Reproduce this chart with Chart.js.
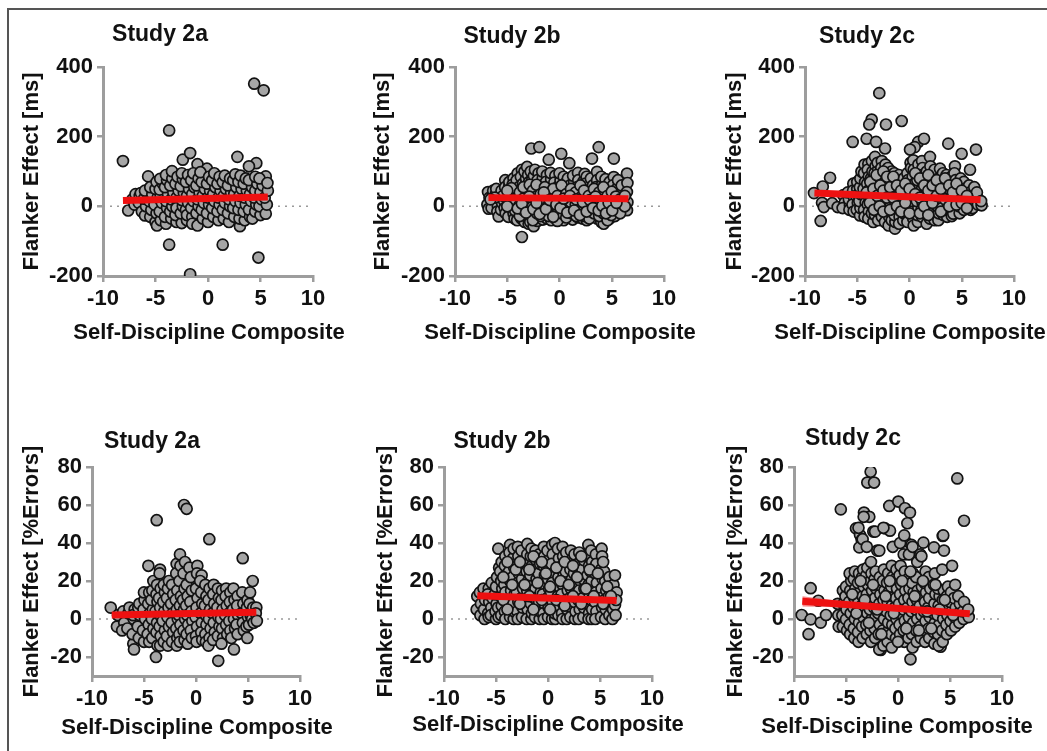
<!DOCTYPE html>
<html><head><meta charset="utf-8">
<script src="https://cdn.jsdelivr.net/npm/chart.js@4.4.0/dist/chart.umd.min.js"></script>
<style>
html,body{margin:0;padding:0;background:#fff;}
#wrap{position:relative;width:1047px;height:751px;overflow:hidden;background:#fff;}
#frame{position:absolute;left:7px;top:8px;width:1100px;height:800px;border-left:2px solid #555;border-top:2px solid #555;}
canvas{position:absolute;}
</style></head><body><div id="wrap"><div id="frame"></div>
<canvas id="c1"></canvas><canvas id="c2"></canvas><canvas id="c3"></canvas>
<canvas id="c4"></canvas><canvas id="c5"></canvas><canvas id="c6"></canvas>
</div>
<script>
// ---------- tick labels ----------
const xTicks = [-10, -5, 0, 5, 10];
const rtTicks = [-200, 0, 200, 400];
const errTicks = [-20, 0, 20, 40, 60, 80];
const panelTitles = ['Study 2a', 'Study 2b', 'Study 2c', 'Study 2a', 'Study 2b', 'Study 2c'];
const xAxisTitle = 'Self-Discipline Composite';
const rtAxisTitle = 'Flanker Effect [ms]';
const errAxisTitle = 'Flanker Effect [%Errors]';

// ---------- data: [self-discipline composite, flanker effect] ----------
const rt2a = [
[-8.1,130],[-7.6,-12],[-3.7,218],[-2.4,134],[-1.7,153],[-3.7,-110],[1.4,-110],[-1.7,-195],[4.4,352],[5.3,333],[4.8,-147],[2.8,142],[-5.7,86],[4.6,124],[3.9,115],[5.5,86],[-1.0,121],[-0.1,108],
[-7.2,20],[-6.9,35],[-7.0,5],
[-6.5,30],[-6.6,10],[-6.3,-15],[-6.4,38],
[-6.0,-26],[-5.9,0],[-6.1,22],[-5.8,38],[-6.0,45],
[-5.5,-30],[-5.4,-10],[-5.6,15],[-5.3,35],[-5.5,55],
[-5.0,-45],[-4.9,-20],[-5.1,5],[-4.8,25],[-5.0,50],[-4.9,70],[-4.86,-55],
[-4.5,-40],[-4.6,-15],[-4.4,10],[-4.5,30],[-4.6,48],[-4.3,65],[-4.55,79],
[-4.0,-50],[-4.1,-30],[-3.9,-5],[-4.0,15],[-3.8,35],[-4.1,55],[-3.9,75],[-4.0,90],
[-3.5,-35],[-3.6,-15],[-3.4,0],[-3.5,20],[-3.3,40],[-3.6,60],[-3.4,80],[-3.43,101],
[-3.0,-45],[-3.1,-25],[-2.9,5],[-3.0,25],[-2.8,45],[-3.1,65],[-2.9,85],[-3.0,-5],
[-2.5,-48],[-2.6,-20],[-2.4,0],[-2.5,18],[-2.3,38],[-2.6,58],[-2.4,78],[-2.5,95],
[-2.0,-40],[-2.1,-10],[-1.9,10],[-2.0,30],[-1.8,50],[-2.1,70],[-1.9,90],[-2.0,-25],
[-1.5,-30],[-1.6,-5],[-1.4,15],[-1.5,35],[-1.3,55],[-1.6,75],[-1.4,95],[-1.5,-50],
[-1.0,-55],[-1.1,-20],[-0.9,0],[-1.0,20],[-0.8,40],[-1.1,60],[-0.9,80],
[-0.5,-35],[-0.6,-10],[-0.4,10],[-0.5,30],[-0.3,50],[-0.6,70],[-0.72,98],
[0.0,-45],[-0.1,-20],[0.1,5],[0.0,25],[0.2,45],[-0.1,65],[0.1,85],
[0.5,-30],[0.4,-5],[0.6,15],[0.5,35],[0.7,55],[0.4,75],[0.6,95],
[1.0,-40],[0.9,-15],[1.1,5],[1.0,25],[1.2,45],[0.9,65],[1.1,85],
[1.5,-35],[1.4,-10],[1.6,10],[1.5,30],[1.7,50],[1.4,70],[1.6,88],
[2.0,-45],[1.9,-20],[2.1,0],[2.0,20],[2.2,40],[1.9,60],[2.1,80],
[2.5,-30],[2.4,-5],[2.6,15],[2.5,35],[2.7,55],[2.4,75],[2.6,92],
[3.04,-57],[3.0,-35],[2.9,-10],[3.1,10],[3.0,30],[3.2,50],[2.9,70],[3.1,88],
[3.5,-40],[3.4,-15],[3.6,5],[3.5,25],[3.7,45],[3.4,65],[3.6,80],
[4.0,-30],[3.9,-10],[4.1,15],[4.0,35],[4.2,55],[3.9,75],
[4.23,-35],[4.5,-15],[4.6,5],[4.4,25],[4.5,45],[4.7,65],[4.5,85],
[5.0,-25],[4.9,0],[5.1,20],[5.0,40],[5.2,60],[4.9,80],
[5.5,-21],[5.6,5],[5.4,25],[5.7,45],[5.66,67]
];

const rt2b = [
[-6.84,41],[-6.7,25],[-6.9,5],[-6.78,-7],
[-6.4,30],[-6.3,15],[-6.5,-5],[-6.35,45],
[-6.0,20],[-5.9,0],[-6.1,35],[-5.95,-15],[-6.05,50],
[-5.82,-29],[-5.6,-10],[-5.5,10],[-5.7,28],[-5.55,45],
[-5.19,75],[-5.2,55],[-5.1,35],[-5.3,15],[-5.25,-5],[-5.15,-20],
[-4.8,60],[-4.9,40],[-4.75,20],[-4.85,0],[-4.7,-15],[-4.9,-30],[-4.8,70],
[-4.4,80],[-4.5,62],[-4.3,45],[-4.45,28],[-4.35,10],[-4.5,-5],[-4.4,-20],[-4.3,-35],
[-4.0,95],[-4.1,75],[-3.9,55],[-4.05,38],[-3.95,20],[-4.1,5],[-3.9,-10],[-4.0,-25],[-4.05,-40],
[-3.6,105],[-3.7,85],[-3.5,65],[-3.65,48],[-3.55,30],[-3.7,12],[-3.5,-3],[-3.6,-18],[-3.65,-35],[-3.6,-88],
[-3.33,-45],[-3.3,-25],[-3.2,-8],[-3.35,8],[-3.25,25],[-3.4,42],[-3.3,60],[-3.2,80],[-3.35,100],
[-3.1,113],[-3.0,90],[-2.9,70],[-3.05,52],[-2.95,35],[-3.1,18],[-2.9,2],[-3.0,-15],[-3.05,-32],[-2.95,-50],
[-2.7,166],[-2.75,100],[-2.6,78],[-2.7,58],[-2.8,40],[-2.65,22],[-2.75,5],[-2.6,-12],[-2.7,-28],[-2.8,-45],
[-2.47,-57],[-2.4,-35],[-2.3,-18],[-2.45,0],[-2.35,15],[-2.5,32],[-2.4,50],[-2.3,68],[-2.45,88],[-2.35,105],
[-1.93,170],[-2.0,95],[-2.1,75],[-1.9,55],[-2.05,38],[-1.95,20],[-2.1,3],[-1.9,-14],[-2.0,-30],[-2.1,-42],
[-1.6,-38],[-1.7,-22],[-1.5,-6],[-1.65,10],[-1.55,27],[-1.7,45],[-1.5,63],[-1.6,82],[-1.65,100],
[-1.03,134],[-1.2,90],[-1.3,70],[-1.1,50],[-1.25,32],[-1.15,15],[-1.3,0],[-1.1,-18],[-1.2,-35],
[-0.8,-40],[-0.9,-25],[-0.7,-8],[-0.85,8],[-0.75,25],[-0.9,42],[-0.7,60],[-0.8,78],[-0.85,96],
[-0.4,88],[-0.5,68],[-0.3,50],[-0.45,32],[-0.35,15],[-0.5,-2],[-0.3,-20],[-0.4,-35],
[0.0,-30],[-0.1,-12],[0.1,5],[-0.05,22],[0.05,40],[-0.1,58],[0.1,75],[0.0,95],[0.17,151],
[0.4,85],[0.5,65],[0.3,45],[0.45,28],[0.35,10],[0.5,-8],[0.3,-25],[0.4,-40],
[0.94,124],[0.8,80],[1.0,60],[0.85,40],[0.95,22],[0.8,5],[1.0,-12],[0.9,-28],
[1.26,-38],[1.3,-20],[1.4,-3],[1.25,15],[1.35,32],[1.2,50],[1.4,70],[1.3,88],
[1.77,96],[1.8,75],[1.7,55],[1.85,38],[1.75,20],[1.9,3],[1.7,-15],[1.8,-32],
[2.2,-35],[2.1,-18],[2.3,0],[2.15,18],[2.25,35],[2.1,52],[2.3,72],[2.41,93],
[2.6,85],[2.5,65],[2.7,45],[2.55,28],[2.65,10],[2.5,-8],[2.7,-25],[2.6,-40],
[3.11,137],[3.0,80],[3.2,60],[3.05,40],[3.15,22],[3.0,5],[3.2,-12],[3.1,-30],
[3.75,170],[3.59,99],[3.6,75],[3.5,55],[3.65,35],[3.55,18],[3.7,0],[3.5,-18],[3.6,-35],
[4.0,-45],[3.9,-25],[4.1,-8],[3.95,10],[4.05,28],[3.9,45],[4.1,65],[4.0,85],
[4.23,-50],[4.4,-30],[4.3,-12],[4.45,5],[4.35,22],[4.5,40],[4.3,58],[4.4,78],
[4.8,70],[4.9,50],[4.7,32],[4.85,15],[4.75,-2],[4.9,-20],[4.8,-35],
[5.2,137],[5.19,84],[5.1,60],[5.3,40],[5.15,22],[5.25,5],[5.1,-12],[5.3,-28],
[5.6,55],[5.7,35],[5.5,18],[5.65,0],[5.55,-15],[5.6,75],
[6.0,45],[6.1,25],[5.9,8],[6.05,-10],[5.95,60],
[6.46,94],[6.5,67],[6.45,41],[6.5,12],[6.46,-11],
[-4.6,52],[-4.2,18],[-4.25,-12],[-3.8,40],[-3.85,2],[-3.8,-28],[-3.45,22],[-3.4,-12],[-3.45,55],[-2.85,62],[-2.85,12],[-2.9,-22],
[-2.55,45],[-2.6,-2],[-2.55,-40],[-2.2,28],[-2.15,-20],[-2.2,62],[-1.8,35],[-1.85,0],[-1.8,-28],[-1.4,55],[-1.4,20],[-1.45,-12],
[-1.0,38],[-1.0,5],[-1.05,-28],[-0.6,50],[-0.6,15],[-0.65,-18],[-0.2,30],[-0.25,-2],[-0.2,-42],[0.2,60],[0.25,15],[0.2,-20],
[0.65,35],[0.7,0],[0.65,-32],[1.1,50],[1.1,12],[1.15,-20],[1.55,40],[1.55,5],[1.6,-28],[2.0,60],[2.0,25],[1.95,-10],
[2.35,45],[2.4,8],[2.4,-28],[2.8,30],[2.85,-2],[2.85,-35],[3.3,50],[3.35,12],[3.3,-20],[3.8,40],[3.8,5],[3.8,-28],
[4.2,55],[4.15,18],[4.2,-20],[4.6,30],[4.6,-5],[4.6,-40],[5.0,42],[5.0,8],[4.95,-25],[5.4,28],[5.35,-5],[5.8,20],
[5.8,-20],[6.25,30],[6.25,0],[-5.4,30],[-5.0,0],[-5.0,45],[-6.2,25],[-6.6,20],
[-4.0,-6],[-3.6,8],[-3.2,-18],[-2.9,28],[-2.5,-8],[-2.2,10],[-1.9,-22],[-1.5,40],[-1.3,-8],[-0.95,18],[-0.6,-30],[-0.3,5],
[0.1,-5],[0.4,22],[0.75,-18],[1.0,30],[1.4,-12],[1.6,20],[1.95,-25],[2.25,12],[2.6,-15],[2.9,18],[3.2,-5],[3.45,28],
[3.75,-12],[4.1,2],[4.45,-20],[4.7,10],[5.05,-12],[5.45,10]
];

const rt2c = [
[-2.89,325],[-3.62,249],[-3.85,235],[-2.25,235],[-0.75,245],[-5.44,185],[-4.1,194],[-3.2,185],[0.84,185],[1.39,194],[0.5,170],[0.05,163],[3.71,180],[4.99,151],[6.36,163],
[-9.14,38],[-8.3,57],[-7.6,82],[-8.37,10],[-8.2,-2],[-8.5,-42],[-7.4,9],[-6.87,-2],
[-6.33,32],[-6.2,10],[-6.4,-5],
[-5.7,3],[-5.8,20],[-5.9,40],[-5.75,-10],
[-5.38,65],[-5.4,45],[-5.3,25],[-5.45,5],[-5.35,-15],
[-5.0,50],[-5.1,30],[-4.95,10],[-5.05,-10],[-5.0,70],
[-4.74,-26],[-4.7,-5],[-4.8,15],[-4.65,35],[-4.75,55],[-4.7,80],[-4.6,100],
[-4.3,120],[-4.35,95],[-4.25,70],[-4.4,50],[-4.3,30],[-4.2,10],[-4.35,-10],[-4.3,-30],
[-3.94,122],[-4.0,105],[-3.9,85],[-4.05,65],[-3.95,45],[-3.85,25],[-4.0,5],[-3.9,-15],[-3.95,-35],
[-3.46,-45],[-3.6,-20],[-3.55,0],[-3.65,20],[-3.5,40],[-3.6,60],[-3.7,80],[-3.55,100],[-3.6,130],
[-3.3,142],[-3.25,115],[-3.35,95],[-3.2,75],[-3.3,55],[-3.4,35],[-3.25,15],[-3.35,-5],[-3.3,-25],
[-3.0,-40],[-2.95,-15],[-3.05,5],[-2.9,25],[-3.0,45],[-3.1,65],[-2.95,85],[-3.0,105],[-3.05,125],
[-2.65,130],[-2.7,110],[-2.6,90],[-2.75,70],[-2.65,50],[-2.55,30],[-2.7,10],[-2.6,-10],[-2.65,-30],
[-2.34,166],[-2.3,120],[-2.4,100],[-2.25,80],[-2.35,60],[-2.45,40],[-2.3,20],[-2.4,0],[-2.3,-20],[-2.35,-45],
[-2.0,-55],[-1.95,-30],[-2.05,-10],[-1.9,10],[-2.0,30],[-2.1,50],[-1.95,70],[-2.0,90],[-2.05,110],
[-1.7,100],[-1.65,80],[-1.75,60],[-1.6,40],[-1.7,20],[-1.8,0],[-1.65,-20],[-1.7,-40],
[-1.39,-64],[-1.35,-45],[-1.45,-25],[-1.3,-5],[-1.4,15],[-1.5,35],[-1.35,55],[-1.4,75],[-1.45,95],
[-1.0,90],[-0.95,70],[-1.05,50],[-0.9,30],[-1.0,10],[-1.1,-10],[-0.95,-30],[-1.0,-50],
[-0.6,-40],[-0.55,-20],[-0.65,0],[-0.5,20],[-0.6,40],[-0.7,60],[-0.55,80],
[-0.2,95],[-0.15,75],[-0.25,55],[-0.1,35],[-0.2,15],[-0.3,-5],[-0.15,-25],[-0.2,-45],
[0.1,125],[0.15,110],
[0.36,132],[0.4,105],[0.3,85],[0.45,65],[0.35,45],[0.25,25],[0.4,5],[0.3,-15],[0.35,-35],[0.4,-55],
[0.8,-45],[0.75,-25],[0.85,-5],[0.7,15],[0.8,35],[0.9,55],[0.75,75],[0.8,95],[0.85,120],
[1.2,130],[1.25,110],[1.15,90],[1.3,70],[1.2,50],[1.1,30],[1.25,10],[1.15,-10],[1.2,-30],
[1.64,-50],[1.6,-20],[1.7,0],[1.55,20],[1.65,40],[1.75,60],[1.6,80],[1.65,100],
[1.96,142],[2.0,115],[1.9,90],[2.05,70],[1.95,50],[1.85,30],[2.0,10],[1.9,-10],[1.95,-35],
[2.4,-40],[2.35,-15],[2.45,5],[2.3,25],[2.4,45],[2.5,65],[2.35,85],[2.4,105],
[2.76,-40],[2.8,-20],[2.7,0],[2.85,20],[2.75,40],[2.65,60],[2.8,80],[2.92,108],
[3.2,95],[3.25,75],[3.15,55],[3.3,35],[3.2,15],[3.1,-5],[3.25,-25],
[3.6,-30],[3.55,-10],[3.65,10],[3.5,30],[3.6,50],[3.7,70],[3.55,90],
[4.0,85],[4.05,65],[3.95,45],[4.1,25],[4.0,5],[3.9,-15],[4.05,-28],
[4.35,115],[4.3,95],[4.4,75],[4.25,55],[4.35,35],[4.45,15],[4.3,-5],[4.19,-21],
[4.8,-20],[4.75,0],[4.85,20],[4.7,40],[4.8,60],[4.9,80],
[5.2,70],[5.25,50],[5.15,30],[5.3,10],[5.2,-10],
[5.79,105],[5.7,60],[5.8,40],[5.65,20],[5.75,0],[5.85,-10],
[6.1,36],[6.15,15],[6.05,-5],[6.2,55],
[6.5,25],[6.55,5],[6.45,40],
[6.9,3],[6.85,15],
[-4.1,40],[-3.75,70],[-3.8,10],[-3.45,50],[-3.4,-10],[-3.15,90],[-3.1,30],[-2.8,60],[-2.85,0],[-2.5,100],[-2.5,45],[-2.5,-15],
[-2.15,85],[-2.15,25],[-1.85,55],[-1.85,-10],[-1.55,85],[-1.55,25],[-1.2,60],[-1.2,0],[-0.8,45],[-0.8,-15],[-0.4,65],[-0.4,10],
[0.0,50],[0.0,-20],[0.55,95],[0.55,35],[1.0,80],[1.0,25],[1.0,-20],[1.4,60],[1.4,0],[1.8,90],[1.8,45],[1.8,-25],
[2.2,60],[2.2,10],[2.6,75],[2.6,30],[3.0,50],[3.0,-15],[3.4,80],[3.4,20],[3.8,60],[3.8,0],[4.15,40],[4.5,65],
[4.5,5],[5.0,45],[5.0,10],[5.5,30],[5.5,-5]
];

const err2a = [
[-8.2,6],[-3.78,52],[-1.15,60],[-0.9,58],[1.28,42],[4.49,32],[5.45,20],
[-7.5,2],[-7.6,-4],
[-7.0,4],[-6.9,-2],[-7.1,-6],
[-6.5,3],[-6.6,-5],[-6.4,6],
[-6.03,-13],[-5.96,-16],[-6.1,-8],[-6.0,0],[-5.9,5],[-6.05,2],
[-5.5,-10],[-5.6,-4],[-5.4,2],[-5.55,6],[-5.45,8],
[-5.0,-12],[-5.1,-6],[-4.9,0],[-5.05,5],[-4.95,10],[-5.0,14],
[-4.58,28],[-4.5,14],[-4.6,8],[-4.45,3],[-4.55,-3],[-4.65,-8],[-4.5,-12],
[-4.2,-10],[-4.1,-5],[-4.25,0],[-4.15,5],[-4.3,10],[-4.2,15],[-4.1,20],
[-3.85,-20],[-3.7,-14],[-3.8,-7],[-3.75,-2],[-3.9,4],[-3.7,9],[-3.8,13],[-3.75,18],
[-3.46,26],[-3.5,24],[-3.4,16],[-3.55,11],[-3.45,6],[-3.35,1],[-3.5,-4],[-3.4,-9],[-3.45,-14],
[-3.1,-12],[-3.0,-6],[-3.2,-1],[-3.05,4],[-3.15,9],[-3.0,14],[-3.1,18],
[-2.7,-14],[-2.8,-9],[-2.6,-4],[-2.75,1],[-2.65,6],[-2.8,11],[-2.7,16],[-2.6,20],
[-2.3,18],[-2.2,13],[-2.4,8],[-2.25,3],[-2.35,-2],[-2.2,-7],[-2.3,-12],
[-1.86,29],[-1.9,24],[-1.8,15],[-1.95,10],[-1.85,5],[-1.75,0],[-1.9,-5],[-1.8,-10],[-1.85,-14],
[-1.54,34],[-1.5,28],[-1.6,20],[-1.45,12],[-1.55,7],[-1.65,2],[-1.5,-3],[-1.6,-8],[-1.55,-12],
[-1.06,30],[-1.2,24],[-1.1,16],[-1.25,10],[-1.15,5],[-1.05,0],[-1.2,-6],[-1.1,-11],
[-0.64,27],[-0.9,18],[-0.8,12],[-0.95,7],[-0.85,2],[-0.75,-3],[-0.9,-8],[-0.8,-13],
[-0.5,22],[-0.4,15],[-0.55,9],[-0.45,4],[-0.35,-1],[-0.5,-6],[-0.4,-10],
[0.13,28],[0.1,24],[0.0,16],[0.15,11],[0.05,6],[-0.05,1],[0.1,-4],[0.0,-9],[0.05,-12],
[0.54,23],[0.4,20],[0.5,14],[0.6,8],[0.45,3],[0.55,-2],[0.5,-7],[0.6,-11],
[0.9,18],[1.0,12],[0.85,7],[0.95,2],[1.0,-3],[0.9,-8],[0.95,-12],
[1.3,16],[1.2,10],[1.35,5],[1.25,0],[1.4,-5],[1.3,-10],[1.2,-14],
[1.7,18],[1.65,13],[1.75,8],[1.6,3],[1.7,-2],[1.8,-7],[1.65,-11],
[2.14,-22],[2.1,16],[2.2,11],[2.05,6],[2.15,1],[2.25,-4],[2.1,-9],
[2.5,15],[2.45,10],[2.55,5],[2.4,0],[2.5,-5],[2.6,-10],[2.45,-13],
[2.9,16],[2.85,12],[2.95,7],[2.8,2],[2.9,-3],[3.0,-8],
[3.3,14],[3.25,9],[3.35,4],[3.2,-1],[3.3,-6],[3.4,-10],
[3.65,-16],[3.6,16],[3.7,10],[3.55,5],[3.65,0],[3.75,-5],
[4.0,12],[3.95,7],[4.05,2],[3.9,-3],[4.0,-8],
[4.45,14],[4.55,8],[4.4,3],[4.5,-2],[4.6,-6],
[4.93,-10],[4.9,6],[5.0,1],[4.85,-4],[4.95,10],
[5.2,14],[5.15,8],[5.25,2],[5.1,-3],
[5.5,6],[5.4,0],[5.55,-2],
[5.8,6],[5.75,3],[5.85,-1]
];

const err2b = [
[-6.86,5],[-6.8,12],
[-6.5,2],[-6.45,8],[-6.55,14],
[-6.1,0],[-6.15,5],[-6.05,10],[-6.2,16],
[-5.7,16],[-5.75,3],[-5.65,9],[-5.8,13],[-5.7,1],
[-5.41,19],[-5.45,6],[-5.35,11],[-5.5,2],
[-5.0,0],[-5.05,4],[-4.95,8],[-5.1,13],[-5.0,17],[-4.9,22],
[-4.78,37],[-4.7,27],[-4.8,6],[-4.75,1],
[-4.5,2],[-4.45,7],[-4.55,12],[-4.4,16],[-4.5,20],[-4.6,25],[-4.45,30],
[-4.1,33],[-4.15,28],[-4.05,23],[-4.2,18],[-4.1,14],[-4.0,9],[-4.15,4],[-4.1,0],
[-3.65,39],[-3.7,35],[-3.6,30],[-3.75,25],[-3.65,20],[-3.55,15],[-3.7,10],[-3.6,5],[-3.65,1],
[-3.3,0],[-3.25,4],[-3.35,8],[-3.2,13],[-3.3,18],[-3.4,22],[-3.25,27],[-3.35,32],[-3.3,37],
[-2.9,38],[-2.85,33],[-2.95,28],[-2.8,24],[-2.9,19],[-3.0,14],[-2.85,9],[-2.95,4],[-2.9,0],
[-2.5,1],[-2.45,6],[-2.55,11],[-2.4,16],[-2.5,21],[-2.6,26],[-2.45,31],[-2.55,36],
[-1.99,39.5],[-2.0,34],[-1.95,29],[-2.05,25],[-1.9,20],[-2.0,15],[-2.1,10],[-1.95,5],[-2.05,0],
[-1.6,0],[-1.55,3],[-1.65,8],[-1.5,13],[-1.6,18],[-1.7,23],[-1.55,28],[-1.65,33],[-1.6,37],
[-1.2,36],[-1.15,31],[-1.25,26],[-1.1,21],[-1.2,16],[-1.3,11],[-1.15,6],[-1.25,1],
[-0.8,0],[-0.75,4],[-0.85,9],[-0.7,14],[-0.8,19],[-0.9,24],[-0.75,29],[-0.85,34],
[-0.4,38],[-0.35,33],[-0.45,28],[-0.3,23],[-0.4,18],[-0.5,13],[-0.35,8],[-0.45,3],[-0.4,0],
[0.0,1],[0.05,6],[-0.05,11],[0.1,16],[0.0,21],[-0.1,26],[0.05,31],[-0.05,36],
[0.4,39],[0.45,34],[0.35,29],[0.5,24],[0.4,19],[0.3,14],[0.45,9],[0.35,4],[0.4,0],
[0.67,40],[0.7,0],[0.65,3],
[1.0,2],[1.05,7],[0.95,12],[1.1,17],[1.0,22],[0.9,27],[1.05,32],[0.95,37],
[1.4,38],[1.45,33],[1.35,28],[1.5,23],[1.4,18],[1.3,13],[1.45,8],[1.35,3],[1.4,0],
[1.8,0],[1.85,5],[1.75,10],[1.9,15],[1.8,20],[1.7,25],[1.85,30],[1.75,35],
[2.2,36],[2.25,31],[2.15,26],[2.3,21],[2.2,16],[2.1,11],[2.25,6],[2.15,1],
[2.6,0],[2.65,4],[2.55,9],[2.7,14],[2.6,19],[2.5,24],[2.65,29],[2.55,34],
[3.0,35],[3.05,30],[2.95,25],[3.1,20],[3.0,15],[2.9,10],[3.05,5],[2.95,0],
[3.4,1],[3.45,6],[3.35,11],[3.5,16],[3.4,21],[3.3,26],[3.45,31],
[3.88,39],[3.85,33],[3.95,28],[3.8,23],[3.9,18],[4.0,13],[3.85,8],[3.95,3],[3.9,0],
[4.2,0],[4.25,5],[4.15,10],[4.3,15],[4.2,20],[4.1,25],[4.25,30],[4.15,36],
[4.6,34],[4.65,29],[4.55,24],[4.7,19],[4.6,14],[4.5,9],[4.65,4],[4.55,0],
[5.16,37],[5.2,33],[5.1,26],[5.25,21],[5.15,16],[5.05,11],[5.2,6],[5.1,1],
[5.5,0],[5.55,5],[5.45,10],[5.6,15],[5.5,20],[5.4,25],
[5.9,22],[5.95,17],[5.85,12],[6.0,7],[5.9,2],
[6.2,0],[6.25,5],[6.15,10],[6.3,18],
[6.44,23],[6.44,7.4],[6.5,2],
[6.6,14],[6.55,10],
[-4.3,10],[-4.3,22],[-3.9,5],[-3.9,30],[-3.45,18],[-3.1,26],[-2.7,8],[-2.7,30],[-2.25,18],[-1.8,12],[-1.8,26],[-1.4,5],
[-1.4,33],[-1.0,19],[-0.6,10],[-0.6,30],[-0.2,24],[0.2,5],[0.2,17],[0.8,27],[0.8,10],[1.2,20],[1.6,30],[1.6,7],
[2.0,18],[2.4,28],[2.4,12],[2.8,22],[3.2,8],[3.2,33],[3.65,16],[4.0,26],[4.4,12],[4.8,24],[5.3,8],[5.3,30],
[5.7,17],[6.05,12]
];

const err2c = [
[-2.63,77.5],[-2.95,71.8],[-2.3,71.8],[5.7,74],[6.35,51.7],[-5.5,57.7],[-0.84,59.5],[0.03,61.8],[0.67,58.3],[1.15,56],[-3.27,56],[-2.76,53.8],[-3.3,53.8],[-4.04,47.7],[-3.65,44.2],[-3.49,41.6],[-3.72,37.7],[-2.37,46],[-1.25,47.7],[-0.77,46.5],[0.9,50.4],[-1.99,36],[4.3,43.7],[3.46,37.7],[4.42,36],[2.44,40.2],[0.67,41],[1.3,39],
[-8.4,16.2],[-7.66,9.6],[-9.26,2.1],[-8.4,-0.2],[-7.43,-1.9],[-6.92,2.1],[-8.6,-8],[1.2,-21.2],[-1.66,-16.3],[4.1,-14.6],
[-5.74,2],[-5.7,-4],[-5.8,8],
[-5.3,-4],[-5.35,2],[-5.25,8],[-5.3,15],
[-5.0,-0.2],[-4.95,5],[-5.05,12],[-5.0,17],[-4.9,-6],
[-4.6,-8],[-4.65,-3],[-4.55,3],[-4.7,9],[-4.6,15],[-4.5,20],[-4.65,24],
[-4.2,-10],[-4.25,-5],[-4.15,0],[-4.3,6],[-4.2,11],[-4.1,16],[-4.25,21],[-4.15,25],
[-3.8,-12],[-3.85,-7],[-3.75,-2],[-3.9,4],[-3.8,9],[-3.7,14],[-3.85,19],[-3.75,24],[-3.8,48],
[-3.4,-10],[-3.45,-4],[-3.35,1],[-3.5,7],[-3.4,12],[-3.3,17],[-3.45,22],[-3.35,26],[-3.4,42],
[-3.0,-8],[-3.05,-3],[-2.95,3],[-3.1,8],[-3.0,13],[-2.9,18],[-3.05,23],[-2.95,27],[-3.0,38],
[-2.6,-12],[-2.65,-6],[-2.55,0],[-2.7,5],[-2.6,10],[-2.5,15],[-2.65,20],[-2.55,24],[-2.6,30],
[-2.2,-10],[-2.25,-5],[-2.15,1],[-2.3,6],[-2.2,11],[-2.1,16],[-2.25,21],[-2.15,25],[-2.2,46],
[-1.8,-16],[-1.85,-8],[-1.75,-3],[-1.9,3],[-1.8,8],[-1.7,13],[-1.85,18],[-1.75,22],[-1.8,36],
[-1.4,-14],[-1.45,-6],[-1.35,0],[-1.5,5],[-1.4,10],[-1.3,15],[-1.45,20],[-1.35,26],[-1.4,48],
[-1.0,-12],[-1.05,-7],[-0.95,-2],[-1.1,4],[-1.0,9],[-0.9,14],[-1.05,19],[-0.95,24],
[-0.6,-15],[-0.65,-8],[-0.55,-3],[-0.7,2],[-0.6,7],[-0.5,12],[-0.65,17],[-0.55,22],[-0.6,28],[-0.5,38],
[-0.2,-10],[-0.25,-5],[-0.15,0],[-0.3,6],[-0.2,11],[-0.1,16],[-0.25,21],[-0.15,26],
[0.2,-8],[0.15,-3],[0.25,3],[0.1,8],[0.2,13],[0.3,18],[0.15,23],[0.25,28],[0.2,40],
[0.6,-12],[0.55,-6],[0.65,-1],[0.5,5],[0.6,10],[0.7,15],[0.55,20],[0.65,25],[0.6,44],[0.55,34],
[1.0,-10],[0.95,-4],[1.05,1],[0.9,6],[1.0,11],[1.1,16],[0.95,21],[1.05,34],
[1.4,-15],[1.35,-8],[1.45,-2],[1.3,4],[1.4,9],[1.5,14],[1.35,19],[1.45,24],[1.4,38],
[1.8,-12],[1.75,-6],[1.85,0],[1.7,5],[1.8,10],[1.9,15],[1.75,22],[1.85,30],
[2.2,-10],[2.15,-4],[2.25,2],[2.1,7],[2.2,12],[2.3,17],[2.15,34],[2.25,33],
[2.6,-12],[2.55,-6],[2.65,-1],[2.5,4],[2.6,9],[2.7,14],[2.55,19],[2.65,25],
[3.0,-10],[2.95,-5],[3.05,1],[2.9,6],[3.0,11],[3.1,16],[2.95,22],
[3.5,-13],[3.45,-7],[3.55,-2],[3.4,3],[3.5,8],[3.6,13],[3.45,18],[3.55,24],
[3.9,-14],[3.85,-8],[3.95,-3],[3.8,2],[3.9,7],[4.0,12],[3.85,16],
[4.3,-12],[4.25,-6],[4.35,0],[4.2,5],[4.3,10],[4.4,15],[4.25,26],[4.35,44],
[4.7,-8],[4.65,-3],[4.75,2],[4.6,7],[4.7,12],[4.8,17],
[5.1,-6],[5.05,-1],[5.15,4],[5.0,9],[5.1,14],[5.2,28],
[5.5,-4],[5.45,1],[5.55,6],[5.4,11],[5.5,18],
[5.9,-2],[5.85,3],[5.95,8],[5.8,12],
[6.3,0],[6.25,4],[6.35,9],
[6.8,1],[6.75,5],
[-4.4,13],[-4.0,3],[-3.6,20],[-3.2,10],[-2.8,-2],[-2.4,18],[-2.0,5],[-1.6,-8],[-1.2,12],[-0.8,20],[-0.4,3],[0.0,-12],
[0.4,20],[0.8,-5],[1.2,25],[1.6,12],[2.0,-6],[2.4,20],[2.8,4],[3.2,-5],[3.6,18],[4.0,5],[4.5,10],[5.3,2]
];

// ---------- fitted regression lines ----------
const fitRt2a = [[-8.1,17],[5.7,27]];
const fitRt2b = [[-6.8,25],[6.6,22]];
const fitRt2c = [[-9.1,38],[6.8,19]];
const fitErr2a = [[-8.1,2.1],[5.8,3.5]];
const fitErr2b = [[-6.8,12.2],[6.6,9.8]];
const fitErr2c = [[-9.2,9.3],[6.9,2.8]];
const bandErr2cUpper = [[-9.2,12],[-2,7],[6.9,4]];
const bandErr2cLower = [[-9.2,6.6],[-2,5.8],[6.9,1.6]];
const zeroLine = [[-10,0],[10,0]];

// ---------- layout (page pixels) ----------
const FONT = '"Liberation Sans", Arial, Helvetica, sans-serif';
const AXIS = '#9d9d9d';
const layoutCfg = [
 {id:'c1', L:0,   T:0,   W:347, H:360, xL:103, xR:313, yT:67,  yB:276, yTitleX:32,  titleX:160, titleY:35,  xTitleX:209, xTitleY:333},
 {id:'c2', L:350, T:0,   W:347, H:360, xL:455, xR:664, yT:67,  yB:276, yTitleX:383, titleX:512, titleY:37,  xTitleX:560, xTitleY:333},
 {id:'c3', L:697, T:0,   W:350, H:360, xL:805, xR:1014,yT:67,  yB:276, yTitleX:735, titleX:867, titleY:37,  xTitleX:910, xTitleY:333},
 {id:'c4', L:0,   T:360, W:347, H:391, xL:92,  xR:300, yT:467, yB:676, yTitleX:32,  titleX:152, titleY:442, xTitleX:197, xTitleY:728},
 {id:'c5', L:350, T:360, W:347, H:391, xL:444, xR:652, yT:467, yB:676, yTitleX:386, titleX:502, titleY:442, xTitleX:548, xTitleY:725},
 {id:'c6', L:697, T:360, W:350, H:391, xL:794, xR:1002,yT:467, yB:676, yTitleX:736, titleX:853, titleY:439, xTitleX:897, xTitleY:727}
];
const panelData = [
 {pts:rt2a, fit:fitRt2a, ticks:rtTicks, min:-200, max:400, yTitle:rtAxisTitle},
 {pts:rt2b, fit:fitRt2b, ticks:rtTicks, min:-200, max:400, yTitle:rtAxisTitle},
 {pts:rt2c, fit:fitRt2c, ticks:rtTicks, min:-200, max:400, yTitle:rtAxisTitle},
 {pts:err2a, fit:fitErr2a, ticks:errTicks, min:-30, max:80, yTitle:errAxisTitle},
 {pts:err2b, fit:fitErr2b, ticks:errTicks, min:-30, max:80, yTitle:errAxisTitle},
 {pts:err2c, fit:fitErr2c, ticks:errTicks, min:-30, max:80, yTitle:errAxisTitle, band:[bandErr2cUpper, bandErr2cLower]}
];

const toXY = arr => arr.map(p => ({x:p[0], y:p[1]}));

const panelText = {
  id:'panelText',
  afterDraw(chart, args, o){
    const ctx = chart.ctx;
    ctx.save();
    ctx.fillStyle = '#111';
    ctx.textAlign = 'center';
    ctx.textBaseline = 'middle';
    ctx.font = 'bold 23px ' + FONT;
    ctx.fillText(o.title, o.tx, o.ty);
    ctx.font = 'bold 22px ' + FONT;
    ctx.fillText(o.xTitle, o.xx, o.xy);
    ctx.restore();
  }
};

layoutCfg.forEach((c, i) => {
  const d = panelData[i];
  const cv = document.getElementById(c.id);
  cv.width = c.W; cv.height = c.H;
  cv.style.left = c.L + 'px'; cv.style.top = c.T + 'px';
  cv.style.width = c.W + 'px'; cv.style.height = c.H + 'px';
  const xH = 40;
  const datasets = [
    {type:'line', data:toXY(d.fit), borderColor:'#ee1111', borderWidth:7, pointRadius:0, borderCapStyle:'butt', fill:false},
  ];
  if (d.band) {
    datasets.push({type:'line', data:toXY(d.band[0]), borderWidth:0, pointRadius:0, fill:'+1', backgroundColor:'rgba(235,40,40,0.55)'});
    datasets.push({type:'line', data:toXY(d.band[1]), borderWidth:0, pointRadius:0, fill:false});
  }
  datasets.push({type:'scatter', data:toXY(d.pts), pointRadius:5.5, pointBackgroundColor:'#a6a6a6', pointBorderColor:'#121212', pointBorderWidth:1.7});
  datasets.push({type:'line', data:toXY(zeroLine), borderColor:'#9a9a9a', borderWidth:1.5, borderDash:[2,5], pointRadius:0, fill:false});

  const axisCommon = {
    type:'linear',
    grid:{drawOnChartArea:false, drawTicks:true, tickLength:6, color:AXIS, lineWidth:2.5},
    border:{display:true, color:AXIS, width:3},
    ticks:{color:'#111', font:{size:22, weight:'bold', family:FONT}, padding:4, autoSkip:false, maxRotation:0}
  };
  new Chart(cv, {
    data:{datasets},
    options:{
      responsive:false, animation:false, devicePixelRatio:1, events:[],
      layout:{padding:{left:0, top:c.yT - c.T, right:(c.L + c.W) - c.xR, bottom:(c.T + c.H) - c.yB - xH}},
      plugins:{legend:{display:false}, tooltip:{enabled:false},
        panelText:{title:panelTitles[i], tx:c.titleX - c.L, ty:c.titleY - c.T, xTitle:xAxisTitle, xx:c.xTitleX - c.L, xy:c.xTitleY - c.T}},
      scales:{
        x:Object.assign({}, axisCommon, {position:'bottom', min:-10, max:10,
          afterFit(s){ s.height = xH; },
          afterBuildTicks(s){ s.ticks = xTicks.map(v => ({value:v})); }}),
        y:Object.assign({}, axisCommon, {position:'left', min:d.min, max:d.max,
          afterFit(s){ s.width = c.xL - c.L; },
          afterBuildTicks(s){ s.ticks = d.ticks.map(v => ({value:v})); },
          title:{display:true, text:d.yTitle, color:'#111', font:{size:22, weight:'bold', family:FONT, lineHeight:1.2}, padding:{top:(c.yTitleX - c.L) - 13.2, bottom:0}}})
      }
    },
    plugins:[panelText]
  });
});
</script>
</body></html>
